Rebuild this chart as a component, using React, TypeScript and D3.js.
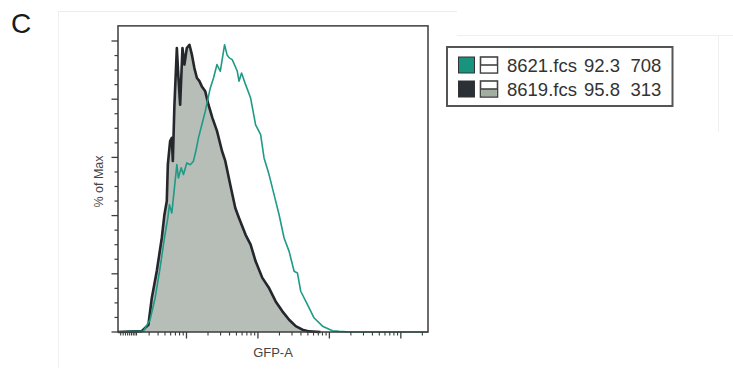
import React from "react";
import * as d3 from "d3";

// ---- Data ----
const BLACK_X = [11, 23.6, 29.3, 32.7, 38.4, 45.1, 49.1, 53.0, 54.8, 59.0, 62.3, 64.4, 67.8, 73.3, 77.2, 81.5, 87.8, 93.6, 101, 110, 119, 129, 140, 151, 164, 183, 203, 231, 267, 314, 349, 410, 482, 543, 672, 790, 928, 1152, 1431, 1771, 2199, 2731, 3380, 4196, 5210, 7504];
const BLACK_Y = [0, 0.3, 2.5, 11.7, 21.0, 32.3, 40.3, 45.0, 57.5, 65.6, 66.7, 58.8, 78.1, 97.6, 87.3, 78.1, 97.6, 91.9, 97.6, 98.7, 95.3, 90.7, 87.3, 86.3, 84.4, 82.7, 78.1, 73.5, 69.1, 62.2, 58.8, 50.6, 42.6, 39.2, 33.4, 30.0, 24.3, 18.6, 15.1, 10.5, 7.1, 4.2, 2.0, 0.8, 0.2, 0];

const GREEN_X = [11, 24.9, 30.9, 36.4, 42.7, 49.1, 54.8, 57.7, 62.3, 67.8, 73.3, 77.2, 84.2, 90.7, 101, 113, 125, 135, 147, 164, 183, 215, 239, 267, 297, 341, 369, 397, 437, 514, 543, 590, 672, 790, 928, 1091, 1217, 1431, 1682, 1977, 2323, 2731, 3209, 3569, 3972, 4932, 6123, 8008, 11058, 13730, 19780, 240000];
const GREEN_Y = [0, 0.3, 4.2, 11.7, 22.0, 32.3, 39.2, 43.7, 40.9, 49.5, 57.5, 52.9, 56.4, 54.1, 58.1, 57.5, 58.7, 62.1, 66.7, 71.2, 75.8, 83.8, 87.3, 91.9, 89.6, 98.7, 95.3, 94.2, 93.6, 89.6, 86.2, 89.0, 85.0, 80.4, 71.2, 67.8, 59.8, 54.1, 47.2, 40.3, 32.3, 27.7, 20.9, 20.3, 14.0, 9.4, 4.8, 2.0, 0.4, 0.2, 0, 0];

const X_DOMAIN = [11, 240000];
const X_MAJOR = [100, 1000, 10000, 100000];
const X_MINOR_MULT = [2, 3, 4, 5, 6, 7, 8, 9];
const X_DECADES = [10, 100, 1000, 10000, 100000];
const X_EXTRA_MINOR = [12, 13, 14, 15, 16, 17, 18, 19];
const Y_MAJOR = [0, 20, 40, 60, 80, 100];
const Y_MINOR = [5, 10, 15, 25, 30, 35, 45, 50, 55, 65, 70, 75, 85, 90, 95];

const LEGEND_ROWS = [
  { name: "8621.fcs", pct: "92.3", count: "708", color: "#17937e", lower: "#ffffff" },
  { name: "8619.fcs", pct: "95.8", count: "313", color: "#2b2f36", lower: "#a2ae9f" },
];

const FONT = "'Liberation Sans', Arial, Helvetica, sans-serif";

export default function App() {
  const x = d3.scaleLog().domain(X_DOMAIN).range([118, 428]);
  const y = d3.scaleLinear().domain([0, 100]).range([332, 41]);

  const black = BLACK_X.map((v, i) => [v, BLACK_Y[i]] as [number, number]);
  const green = GREEN_X.map((v, i) => [v, GREEN_Y[i]] as [number, number]);

  const line = d3.line<[number, number]>().x((d) => x(d[0])).y((d) => y(d[1]));
  const area = d3
    .area<[number, number]>()
    .x((d) => x(d[0]))
    .y0(y(0))
    .y1((d) => y(d[1]));

  const xMinor: number[] = [];
  X_DECADES.forEach((dec) =>
    X_MINOR_MULT.forEach((m) => {
      const v = dec * m;
      if (v >= X_DOMAIN[0] && v <= X_DOMAIN[1]) xMinor.push(v);
    })
  );
  X_EXTRA_MINOR.forEach((v) => xMinor.push(v));

  const [x0, x1] = x.range();
  const yTop = y(105.2);
  const yBot = y(0);
  const axisColor = "#3d3d3d";

  return (
    <svg
      width={733}
      height={370}
      style={{ position: "absolute", left: 0, top: 0, background: "#fff" }}
      fontFamily={FONT}
    >
      {/* faint scan borders */}
      <line x1={58} y1={11.5} x2={457} y2={11.5} stroke="#ececec" strokeWidth={1} />
      <line x1={58.5} y1={11} x2={58.5} y2={368} stroke="#efefef" strokeWidth={1} />
      <line x1={457} y1={35.5} x2={733} y2={35.5} stroke="#efefef" strokeWidth={1} />
      <line x1={718.5} y1={36} x2={718.5} y2={132} stroke="#f0f0f0" strokeWidth={1} />

      {/* panel label */}
      <text x={11} y={33} fontSize={28} fill="#1a1a1a">C</text>

      {/* histograms */}
      <path d={area(black) || ""} fill="#b7bdb7" />
      <path d={line(black) || ""} fill="none" stroke="#24272c" strokeWidth={2.6} strokeLinejoin="round" />
      <path d={line(green) || ""} fill="none" stroke="#1f9a85" strokeWidth={1.6} strokeLinejoin="round" />

      {/* frame */}
      <rect x={x0} y={yTop} width={x1 - x0} height={yBot - yTop} fill="none" stroke={axisColor} strokeWidth={1.5} />

      {/* y ticks */}
      {Y_MAJOR.map((v) => (
        <line key={"ym" + v} x1={x0 - 6.5} x2={x0} y1={y(v)} y2={y(v)} stroke={axisColor} strokeWidth={1.3} />
      ))}
      {Y_MINOR.map((v) => (
        <line key={"yn" + v} x1={x0 - 3.5} x2={x0} y1={y(v)} y2={y(v)} stroke={axisColor} strokeWidth={1.2} />
      ))}

      {/* x ticks */}
      {X_MAJOR.map((v) => (
        <line key={"xm" + v} x1={x(v)} x2={x(v)} y1={yBot} y2={yBot + 6.5} stroke={axisColor} strokeWidth={1.3} />
      ))}
      {xMinor.map((v) => (
        <line key={"xn" + v} x1={x(v)} x2={x(v)} y1={yBot} y2={yBot + 3.5} stroke={axisColor} strokeWidth={1.1} />
      ))}

      {/* axis titles */}
      <text
        transform={`translate(103, ${(y(0) + y(100)) / 2 - 5}) rotate(-90)`}
        textAnchor="middle"
        fontSize={12.5}
        fill="#444"
      >
        % of Max
      </text>
      <text x={(x0 + x1) / 2} y={356.5} textAnchor="middle" fontSize={13} fill="#444">
        GFP-A
      </text>

      {/* legend */}
      <rect x={447} y={47} width={225.5} height={59} fill="#fff" stroke="#555" strokeWidth={2} />
      {LEGEND_ROWS.map((r, i) => {
        const ty = 57 + i * 24;
        return (
          <g key={r.name}>
            <rect x={458.5} y={ty} width={16} height={16} fill={r.color} stroke="#333" strokeWidth={1} />
            <rect x={480.5} y={ty} width={17} height={16} fill="#fff" stroke="#444" strokeWidth={1.6} />
            <rect x={481.3} y={ty + 8} width={15.4} height={7.2} fill={r.lower} />
            <line x1={480.5} x2={497.5} y1={ty + 8} y2={ty + 8} stroke="#444" strokeWidth={1.6} />
            <text x={507} y={ty + 15} fontSize={18.5} fill="#333">{r.name}</text>
            <text x={584} y={ty + 15} fontSize={18.5} fill="#333">{r.pct}</text>
            <text x={630.5} y={ty + 15} fontSize={18.5} fill="#333">{r.count}</text>
          </g>
        );
      })}
    </svg>
  );
}
